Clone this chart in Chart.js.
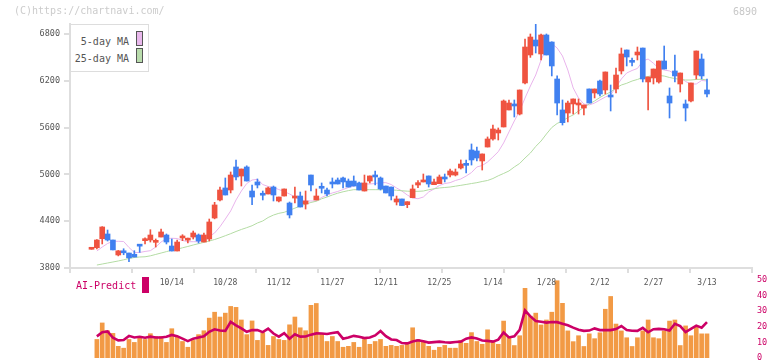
<!DOCTYPE html>
<html>
<head>
<meta charset="utf-8">
<script src="https://cdn.jsdelivr.net/npm/chart.js@4.4.1/dist/chart.umd.min.js"></script>
<style>
  body { margin: 0; background: #fff; width: 772px; height: 361px; overflow: hidden; position: relative;
         font-family: "DejaVu Sans Mono", monospace; }
  canvas { position: absolute; left: 0; }
  #priceChart { top: 0; z-index: 2; }
  #aiChart { top: 270px; z-index: 1; }
  .txt { position: absolute; white-space: nowrap; line-height: 12px; font-size: 10px; z-index: 3; }
  #copy { left: 14px; top: 5px; color: #ccc; }
  #code { left: 733px; top: 6px; color: #c8c8c8; }
  #legend { position: absolute; left: 70px; top: 24px; width: 79px; height: 48px; box-sizing: border-box;
            border: 1px solid #ddd; background: #fff; z-index: 3; }
  #legend .row { position: absolute; right: 19px; font-size: 10px; line-height: 12px; color: #555; }
  #legend .sw { position: absolute; left: 65px; width: 7px; height: 15px; box-sizing: border-box; border: 1px solid #555; }
  #aiLabel { left: 76px; top: 280px; color: #cc0066; }
  #aiMark { position: absolute; left: 142px; top: 277px; width: 7px; height: 16px; background: #cc0066; z-index: 3; }
</style>
</head>
<body>
<div class="txt" id="copy">(C)https://chartnavi.com/</div>
<div class="txt" id="code">6890</div>
<div id="legend">
  <div class="row" style="top:11px">5-day MA</div>
  <div class="sw" style="top:6px;background:#e9b8ec"></div>
  <div class="row" style="top:28px">25-day MA</div>
  <div class="sw" style="top:23px;background:#b9dcac"></div>
</div>
<div class="txt" id="aiLabel">AI-Predict</div>
<div id="aiMark"></div>
<canvas id="priceChart" width="772" height="300"></canvas>
<canvas id="aiChart" width="772" height="100"></canvas>
<script>
// --- data (index = trading day) ---
const tickDays   = [15, 25, 35, 45, 55, 65, 75, 85, 95, 105, 115];
const tickLabels = ['10/14', '10/28', '11/12', '11/27', '12/11', '12/25', '1/14', '1/28', '2/12', '2/27', '3/13'];
const priceTicks = [3800, 4400, 5000, 5600, 6200, 6800];

const open = [4040,4060,4176,4236,4159,3967,4018,3992,3976,4085, 4150,4159,4129,4197,4223,4082,4018,4185,4157,4197,
  4223,4133,4172,4441,4672,4826,4800,5095,4979,5095, 4787,4903,4740,4749,4838,4659,4723,4633,4697,4723,
  4620,4992,4672,4830,4800,4903,4928,4954,4915,4915, 4890,4787,4915,4992,4954,4851,4838,4646,4685,4612,
  4701,4864,4903,4980,4868,4881,4967,4992,4992,5082, 5125,5313,5300,5172,5351,5454,5531,5608,5826,5903,
  5774,6172,6531,6723,6544,6787,6697,6223,5826,5787, 5903,5890,5851,6095,6044,6197,6082,6018,6095,6326,
  6595,6445,6531,6620,6185,6236,6185,6454,6005,6326, 6159,5903,5941,6274,6479,6082];
const high = [4045,4165,4330,4287,4159,4025,4047,3992,4022,4097, 4188,4291,4172,4300,4236,4172,4159,4227,4185,4274,
  4236,4249,4428,4642,4838,4954,5031,5185,5069,5110, 4864,4941,4787,4838,4851,4710,4813,4646,4838,4774,
  4787,4992,4813,4890,4826,4954,4954,4967,4941,4980, 4900,4992,4980,5044,4967,4851,4838,4723,4685,4650,
  4864,4920,5005,4980,4941,4992,5005,5069,5069,5185, 5185,5390,5351,5262,5480,5633,5595,5954,5954,5954,
  6082,6736,6800,6928,6800,6800,6700,6262,5954,5941, 5967,5967,5890,6095,6095,6210,6313,6146,6364,6620,
  6595,6492,6633,6620,6249,6351,6454,6646,6108,6531, 6300,5954,6172,6582,6544,6223];
const low = [4040,4044,4108,4146,4032,3955,3970,3880,3941,4000, 4108,4133,4069,4197,4108,4018,4018,4150,4120,4172,
  4120,4133,4146,4430,4659,4736,4762,4928,4851,4915, 4612,4826,4672,4749,4659,4646,4723,4441,4633,4582,
  4556,4787,4672,4762,4723,4826,4877,4826,4838,4851, 4800,4787,4890,4864,4800,4762,4672,4608,4601,4573,
  4701,4830,4903,4838,4868,4881,4903,4967,4980,5069, 5018,5120,5172,5056,5351,5440,5441,5608,5826,5736,
  5762,6160,6500,6556,6467,6531,6262,5762,5633,5672, 5774,5774,5762,5915,5980,6005,6031,5813,6044,6287,
  6390,6390,6467,6185,5826,6159,6170,6351,5723,6185, 6056,5685,5930,6223,6223,5992];
const close = [4045,4159,4326,4159,4032,4020,3995,3930,3941,4080, 4158,4223,4155,4262,4133,4018,4133,4210,4161,4249,
  4146,4223,4390,4608,4800,4736,4992,4967,5069,4915, 4710,4864,4733,4826,4736,4710,4813,4480,4723,4582,
  4659,4864,4723,4822,4749,4877,4877,4903,4838,4851, 4800,4890,4980,4967,4813,4762,4723,4685,4601,4650,
  4813,4894,4928,4877,4903,4967,4941,5044,5031,5133, 5116,5185,5210,5262,5454,5582,5569,5941,5915,5877,
  6082,6633,6761,6646,6787,6531,6390,5915,5663,5915, 5967,5915,5890,5915,6095,6031,6313,5992,6274,6544,
  6505,6437,6569,6223,6249,6351,6454,6351,5915,6262, 6300,5851,6172,6582,6262,6031];

const ma5 = [null,4018,4069,4114,4142,4142,4140,4063,3999,3999, 4012,4022,4069,4133,4178,4181,4178,4153,4137,4137,
  4137,4172,4204,4249,4329,4428,4531,4672,4787,4883, 4928,4937,4870,4845,4832,4806,4781,4749,4710,4672,
  4659,4659,4659,4704,4736,4762,4781,4806,4832,4851, 4870,4877,4877,4883,4894,4894,4870,4826,4787,4736,
  4697,4688,4710,4774,4813,4858,4883,4894,4922,4941, 4979,5024,5095,5114,5159,5223,5291,5403,5544,5685,
  5813,5979,6133,6274,6467,6620,6678,6620,6518,6338, 6108,5979,5902,5890,5915,5954,5992,6018,6120,6223,
  6300,6332,6358,6454,6479,6424,6360,6338,6326,6287, 6242,6191,6159,6159,6204,6197];
const ma25 = [null,3838,3851,3864,3877,3890,3905,3922,3935,3941, 3944,3956,3974,3992,4010,4028,4041,4059,4076,4095,
  4112,4129,4146,4165,4188,4214,4240,4268,4294,4317, 4342,4377,4403,4447,4479,4501,4514,4541,4567,4595,
  4618,4640,4656,4687,4710,4736,4759,4777,4792,4804, 4804,4804,4804,4804,4804,4803,4800,4797,4790,4785,
  4783,4783,4787,4803,4815,4826,4832,4838,4849,4860, 4871,4883,4894,4909,4922,4947,4982,5012,5044,5095,
  5140,5210,5274,5358,5428,5518,5601,5653,5685,5729, 5762,5813,5860,5903,5941,5986,6024,6056,6108,6146,
  6168,6197,6217,6242,6255,6268,6268,6261,6242,6229, 6217,6210,6210,6217,6220,6210];

const volume = [null,11.9,22.5,17.5,15.8,7.5,6.3,11.9,10,13.8, 11.9,15.6,13.8,13.8,10,18.8,13.8,10.6,6.9,11.3,
  15,17.5,25.6,29.4,26.3,28.8,33.1,32.5,24.4,15, 23.8,11.3,16.3,8.1,13.8,11.9,11.3,21.3,26.3,19.4,
  17.5,33.8,35,15.6,10.6,13.8,10.6,6.9,7.5,10, 6.9,11.9,8.8,10.6,11.9,7.5,8.1,7.5,8.1,9.4,
  19.4,11.9,10.6,7.5,5,6.9,8.1,6.3,6.3,11.3, 9.4,16.3,10.6,8.8,18.1,10.6,8.8,23.7,13.7,8,
  14.3,44.7,26.9,28.8,21.2,24.4,29.4,49.6,35.1,17.4, 10.5,14.3,7.4,15.5,12.4,16.2,31.3,39.5,21.8,17.4,
  13,7.4,13,17.4,24.4,13,12.4,17.4,23.7,24.4, 8,20.6,14.3,20,15.5,15.5];
const aiPredict = [null,13.9,16.5,17,13,11.3,11.6,14.2,13.2,13.6, 13,13.7,13.2,13.2,13.6,14.8,14,12.4,10.8,12.4,
  13.2,13.9,16.8,18.4,17.7,17.4,23.2,21,19,16.8, 17.9,17.9,16.6,18.9,15.7,13.7,16,12.4,15.2,13.7,
  13.8,15,15.8,15.7,15.4,16,16.6,12.4,13.2,14.2, 13.6,12.8,13.2,14.5,17.3,14,11.9,11.5,9.6,9.4,
  10.6,11.4,10.8,9.9,10.2,10.5,10.1,9.9,10.3,10.5, 12.4,13.2,12.5,11.2,11,10.5,11.8,16.4,13.2,13.9,
  18,30.5,26.7,23.7,23.3,22.7,23.1,23,22,21, 19.5,18.2,17.4,17.6,19,17.9,17.9,17.9,18.6,20.5,
  17.9,17.5,17.4,19.3,16.5,18.5,18.7,18.5,17.6,22, 20.5,16.6,18.7,20.8,19.5,23];

// --- chart setup ---
const X_MIN = -4.02, X_MAX = 123.41;
const UP = '#ef5340', DOWN = '#4080f0';
const candleColors = open.map((o, i) => close[i] >= o ? UP : DOWN);
const pts = arr => arr.map((v, i) => ({ x: i, y: v })).filter(p => p.y !== null);
const monoFont = size => ({ family: '"DejaVu Sans Mono", monospace', size: size });

new Chart(document.getElementById('priceChart'), {
    type: 'bar',
    data: {
        datasets: [
            { type: 'line', label: '5-day MA', data: pts(ma5), borderColor: '#e9b4ec', borderWidth: 1,
              pointRadius: 0, order: 4 },
            { type: 'line', label: '25-day MA', data: pts(ma25), borderColor: '#b4dca4', borderWidth: 1,
              pointRadius: 0, order: 3 },
            { label: 'wick', data: low.map((l, i) => ({ x: i, y: [l, high[i]] })), backgroundColor: candleColors,
              barThickness: 1, grouped: false, order: 2 },
            { label: 'body', data: open.map((o, i) => ({ x: i, y: [o, close[i]] })), backgroundColor: candleColors,
              barThickness: 5, minBarLength: 2, grouped: false, order: 1 }
        ]
    },
    options: {
        responsive: false,
        animation: false,
        layout: { padding: { left: 0, right: 20, top: 24, bottom: 0 } },
        plugins: { legend: { display: false }, tooltip: { enabled: false } },
        scales: {
            x: {
                type: 'linear', min: X_MIN, max: X_MAX, offset: false,
                afterBuildTicks: s => {
                    // tick marks split the axis into 11 even parts
                    s.ticks = Array.from({ length: 12 }, (_, k) => ({ value: X_MIN + k * (X_MAX - X_MIN) / 11 }));
                },
                ticks: { display: false },
                grid: { offset: false, drawOnChartArea: false, tickLength: 5, color: '#dedede', lineWidth: 2 },
                border: { color: '#dedede', width: 2 },
                afterFit: s => { s.height = 5; }
            },
            x2: {
                type: 'linear', position: 'bottom', min: X_MIN, max: X_MAX, offset: false,
                afterBuildTicks: s => { s.ticks = tickDays.map(d => ({ value: d })); },
                ticks: { callback: (v, idx) => tickLabels[idx], autoSkip: false, maxRotation: 0,
                         font: monoFont(8), color: '#555', padding: 5 },
                grid: { display: false, drawTicks: false, offset: false },
                border: { display: false },
                afterFit: s => { s.height = 27; }
            },
            y: {
                min: 3800, max: 6928,
                afterBuildTicks: s => { s.ticks = priceTicks.map(v => ({ value: v })); },
                ticks: { callback: v => String(v), font: monoFont(8.5), color: '#555', padding: 4 },
                grid: { drawOnChartArea: false, tickLength: 6, color: '#dedede', lineWidth: 2 },
                border: { color: '#dedede', width: 2 },
                afterFit: s => { s.width = 70; }
            }
        }
    }
});

new Chart(document.getElementById('aiChart'), {
    type: 'bar',
    data: {
        datasets: [
            { type: 'line', label: 'AI-Predict', data: pts(aiPredict), borderColor: '#cc0066', borderWidth: 2.6,
              pointRadius: 0, order: 1 },
            { label: 'volume', data: pts(volume), backgroundColor: '#f29a45', barThickness: 4, grouped: false, order: 2 }
        ]
    },
    options: {
        responsive: false,
        animation: false,
        layout: { padding: { left: 70, right: 0, top: 8, bottom: 12 } },
        plugins: { legend: { display: false }, tooltip: { enabled: false } },
        scales: {
            x: { type: 'linear', min: X_MIN, max: X_MAX, offset: false, display: false },
            y: {
                position: 'right', min: 0, max: 50,
                ticks: { stepSize: 10, font: monoFont(8.5), color: '#cc0066', padding: 5 },
                grid: { display: false, drawTicks: false },
                border: { display: false },
                afterFit: s => { s.width = 20; }
            }
        }
    }
});
</script>
</body>
</html>
